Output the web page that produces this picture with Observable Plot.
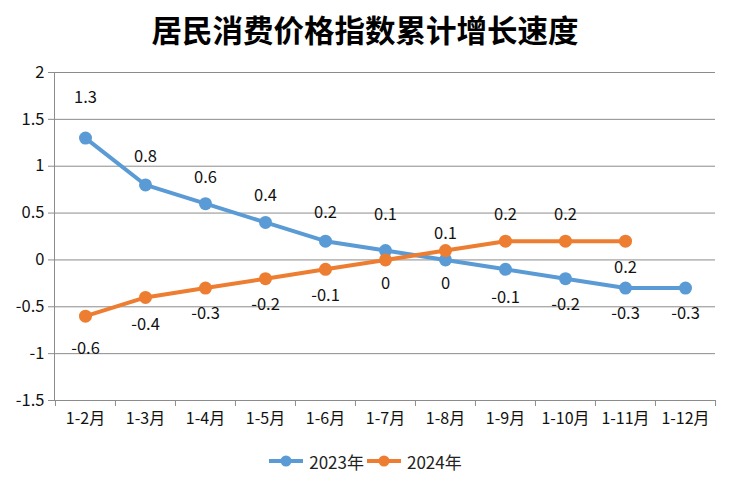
<!DOCTYPE html>
<html>
<head>
<meta charset="utf-8">
<script src="https://cdn.jsdelivr.net/npm/d3@7"></script>
<script src="https://cdn.jsdelivr.net/npm/@observablehq/plot@0.6"></script>
<style>
  html, body { margin: 0; padding: 0; background: #fff; }
  body { width: 730px; height: 482px; overflow: hidden; font-family: "Noto Sans CJK SC", "Noto Sans", sans-serif; }
  #title { height: 55px; display: flex; align-items: center; justify-content: center; font-size: 30.5px; font-weight: 700; color: #000; padding-top: 3px; box-sizing: border-box; }
  #legend { height: 42px; display: flex; align-items: center; justify-content: center; font-size: 17px; color: #222; gap: 2px; }
  #legend .item { display: flex; align-items: center; gap: 5px; }
</style>
</head>
<body>
<div id="title">居民消费价格指数累计增长速度</div>
<div id="chart"></div>
<div id="legend"></div>
<script>
// ---- data ----
const months = ["1-2月", "1-3月", "1-4月", "1-5月", "1-6月", "1-7月", "1-8月", "1-9月", "1-10月", "1-11月", "1-12月"];
const seriesNames = ["2023年", "2024年"];
const cpi2023 = [1.3, 0.8, 0.6, 0.4, 0.2, 0.1, 0, -0.1, -0.2, -0.3, -0.3];
const cpi2024 = [-0.6, -0.4, -0.3, -0.2, -0.1, 0, 0.1, 0.2, 0.2, 0.2];
const yTicks = [-1.5, -1, -0.5, 0, 0.5, 1, 1.5, 2];

// ---- label offsets (layout only, px) ----
const labelDy2023 = [-40, -28, -26, -27, -28, -36, 24, 28, 26, 26, 26];
const labelDy2024 = [33, 27, 26, 26, 26, 24, -17, -26, -26, 27];

const colors = ["#5b9bd5", "#ed7d31"];

const rows2023 = cpi2023.map((v, i) => ({month: months[i], value: v, series: seriesNames[0], dy: labelDy2023[i]}));
const rows2024 = cpi2024.map((v, i) => ({month: months[i], value: v, series: seriesNames[1], dy: labelDy2024[i]}));

const W = 730, H = 385, mL = 54, mR = 15, mT = 17, mB = 40;
const step = (W - mL - mR) / months.length;
const grid = "#8c8c8c";
const font = '"Noto Sans CJK SC", "Noto Sans", sans-serif';

const labelMarks = [...rows2023, ...rows2024].map(r =>
  Plot.text([r], {x: "month", y: "value", text: d => String(d.value), dy: r.dy, fill: "#111", fontSize: 16.5})
);

const chart = Plot.plot({
  width: W, height: H,
  marginLeft: mL, marginRight: mR, marginTop: mT, marginBottom: mB,
  style: {fontFamily: font, fontSize: "16px", background: "#fff", color: "#222"},
  x: {type: "point", domain: months, padding: 0.5, align: 0.5, label: null},
  y: {domain: [-1.5, 2], label: null},
  marks: [
    Plot.gridY(yTicks, {stroke: grid, strokeOpacity: 1, strokeWidth: 1}),
    Plot.frame({anchor: "left", stroke: grid}),
    Plot.axisY(yTicks, {tickSize: 6, tickPadding: 4, stroke: grid, fill: "#111", fontSize: 16.5, tickFormat: d => String(d), label: null}),
    Plot.axisX({tickSize: 0, tickPadding: 12, fill: "#111", fontSize: 16, label: null}),
    Plot.ruleX(months, {x: d => d, dx: -step / 2, stroke: grid, insetTop: H - mT - mB, insetBottom: -6}),
    Plot.ruleX([months[months.length - 1]], {x: d => d, dx: step / 2, stroke: grid, insetTop: H - mT - mB, insetBottom: -6}),
    Plot.line(rows2023, {x: "month", y: "value", stroke: colors[0], strokeWidth: 4}),
    Plot.dot(rows2023, {x: "month", y: "value", fill: colors[0], r: 6.5}),
    Plot.line(rows2024, {x: "month", y: "value", stroke: colors[1], strokeWidth: 4}),
    Plot.dot(rows2024, {x: "month", y: "value", fill: colors[1], r: 6.5}),
    ...labelMarks
  ]
});
document.getElementById("chart").appendChild(chart);

// legend
const legend = document.getElementById("legend");
seriesNames.forEach((name, i) => {
  const item = document.createElement("div");
  item.className = "item";
  item.innerHTML = `<svg width="36" height="14"><line x1="1" y1="7" x2="35" y2="7" stroke="${colors[i]}" stroke-width="4"/><circle cx="18" cy="7" r="5.5" fill="${colors[i]}"/></svg><span>${name}</span>`;
  legend.appendChild(item);
});
</script>
</body>
</html>
